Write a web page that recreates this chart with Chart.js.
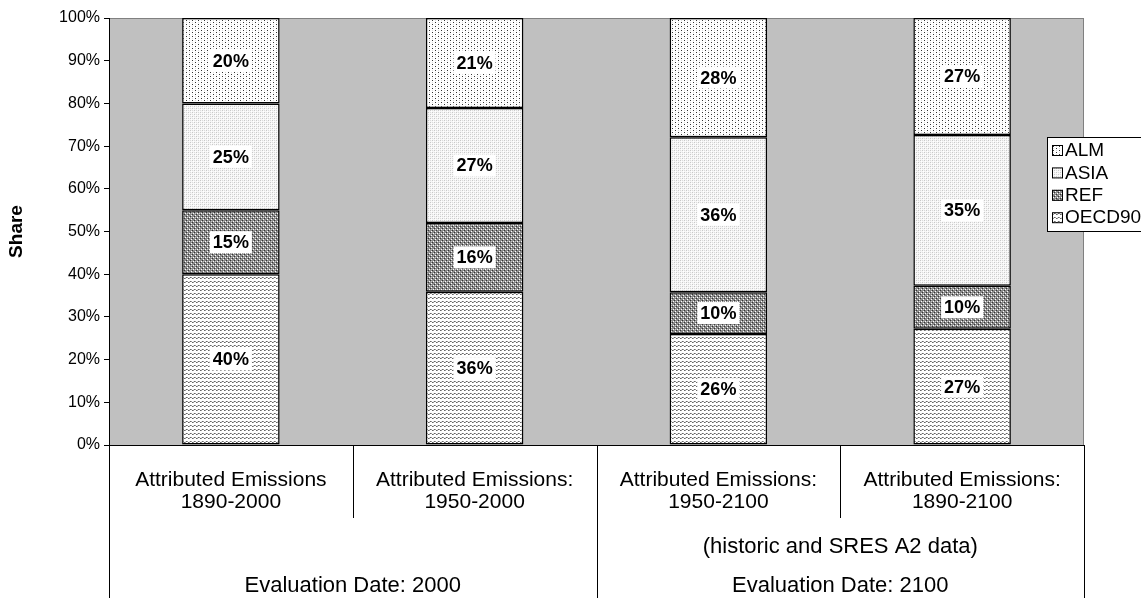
<!DOCTYPE html>
<html>
<head>
<meta charset="utf-8">
<script src="https://cdn.jsdelivr.net/npm/chart.js@4"></script>
<style>
  body { margin: 0; background: #fff; }
  #wrap { width: 1141px; height: 598px; }
</style>
</head>
<body>
<div id="wrap"><canvas id="shareChart" width="1141" height="598"></canvas></div>
<script>
// categories (two lines each) and the grouping rows under them
const categories = [
  ['Attributed Emissions', '1890-2000'],
  ['Attributed Emissions:', '1950-2000'],
  ['Attributed Emissions:', '1950-2100'],
  ['Attributed Emissions:', '1890-2100']
];
const groupNotes = ['', '(historic and SRES A2 data)'];
const groupLabels = ['Evaluation Date: 2000', 'Evaluation Date: 2100'];

// shares in percent
const oecd90 = [40.0, 35.9, 26.0, 27.2];
const ref = [15.0, 16.1, 9.8, 10.1];
const asia = [25.0, 26.9, 36.3, 35.3];
const alm = [20.0, 21.1, 27.9, 27.4];

const yTicks = [0, 10, 20, 30, 40, 50, 60, 70, 80, 90, 100];

const FONT = "'Liberation Sans', Arial, sans-serif";

// little bitmap tiles to mimic the old hatch fills
function tile(w, h, bg, dots) {
  const c = document.createElement('canvas');
  c.width = w; c.height = h;
  const g = c.getContext('2d');
  g.fillStyle = bg;
  g.fillRect(0, 0, w, h);
  dots.forEach(d => {
    g.fillStyle = d[2];
    g.fillRect(d[0], d[1], 1, 1);
  });
  return g.createPattern(c, 'repeat');
}

const almFill = tile(6, 4, '#ffffff', [[0, 0, '#333'], [3, 2, '#333'], [3, 0, '#dcdcdc'], [0, 2, '#dcdcdc']]);
const asiaFill = tile(4, 4, '#f6f6f6', [[0, 0, '#c8c8c8'], [2, 0, '#dcdcdc'], [0, 2, '#dcdcdc'], [2, 2, '#c8c8c8'], [1, 1, '#fff'], [3, 3, '#fff']]);
const refFill = tile(4, 4, '#8a8a8a', [[1, 1, '#ffffff'], [3, 3, '#ffffff'], [0, 2, '#333'], [2, 0, '#333'], [3, 1, '#c8c8c8']]);
const oecdFill = tile(4, 4, '#ffffff', [[0, 2, '#666'], [1, 2, '#999'], [2, 1, '#666'], [3, 1, '#999'], [1, 1, '#e0e0e0']]);

const seriesInfo = [
  { label: 'OECD90', data: oecd90, fill: oecdFill },
  { label: 'REF', data: ref, fill: refFill },
  { label: 'ASIA', data: asia, fill: asiaFill },
  { label: 'ALM', data: alm, fill: almFill }
];

// grey plot background + frame
const plotBack = {
  id: 'plotBack',
  beforeDraw(chart) {
    const a = chart.chartArea, ctx = chart.ctx;
    ctx.save();
    ctx.fillStyle = '#c0c0c0';
    ctx.fillRect(a.left, a.top, a.right - a.left, a.bottom - a.top);
    ctx.strokeStyle = '#808080';
    ctx.lineWidth = 1;
    ctx.strokeRect(a.left + 0.5, a.top + 0.5, a.right - a.left - 1, a.bottom - a.top);
    ctx.restore();
  }
};

// percent labels in white boxes
const segLabels = {
  id: 'segLabels',
  afterDatasetsDraw(chart) {
    const ctx = chart.ctx;
    ctx.save();
    ctx.font = 'bold 18px ' + FONT;
    ctx.textAlign = 'center';
    ctx.textBaseline = 'middle';
    chart.data.datasets.forEach((ds, i) => {
      chart.getDatasetMeta(i).data.forEach((bar, j) => {
        const txt = Math.round(ds.data[j]) + '%';
        const cy = (bar.y + bar.base) / 2;
        const w = ctx.measureText(txt).width + 6;
        ctx.fillStyle = '#fff';
        ctx.fillRect(bar.x - w / 2, cy - 11, w, 22);
        ctx.fillStyle = '#000';
        ctx.fillText(txt, bar.x, cy + 1);
      });
    });
    ctx.restore();
  }
};

// category table under the axis + legend box
const tableAndLegend = {
  id: 'tableAndLegend',
  afterDraw(chart) {
    const ctx = chart.ctx, a = chart.chartArea;
    const H = chart.height;
    const step = (a.right - a.left) / categories.length;
    ctx.save();
    ctx.strokeStyle = '#000';
    ctx.lineWidth = 1;
    // inner separators (short) and group separators (full)
    for (let i = 0; i <= categories.length; i++) {
      const x = Math.round(a.left + i * step) + 0.5;
      const full = i % 2 === 0;
      ctx.beginPath();
      ctx.moveTo(x, a.bottom);
      ctx.lineTo(x, full ? H : a.bottom + 73);
      ctx.stroke();
    }
    ctx.fillStyle = '#000';
    ctx.font = '22px ' + FONT;
    ctx.textAlign = 'center';
    ctx.textBaseline = 'middle';
    for (let g = 0; g < groupLabels.length; g++) {
      const cx = a.left + (g * 2 + 1) * step;
      if (groupNotes[g]) ctx.fillText(groupNotes[g], cx, a.bottom + 102);
      ctx.fillText(groupLabels[g], cx, a.bottom + 141);
    }

    // legend
    const lx = 1047, ly = 137;
    ctx.fillStyle = '#fff';
    ctx.fillRect(lx, ly, 120, 94);
    ctx.strokeRect(lx + 0.5, ly + 0.5, 120, 94);
    ctx.font = '19px ' + FONT;
    ctx.textAlign = 'left';
    const order = seriesInfo.slice().reverse();
    order.forEach((s, k) => {
      const yy = ly + 13 + k * 22.4;
      ctx.fillStyle = s.fill;
      ctx.fillRect(lx + 5, yy - 5, 11, 11);
      ctx.strokeStyle = '#000';
      ctx.strokeRect(lx + 5.5, yy - 4.5, 10, 10);
      ctx.fillStyle = '#000';
      ctx.fillText(s.label, lx + 18, yy + 1);
    });
    ctx.restore();
  }
};

new Chart(document.getElementById('shareChart'), {
  type: 'bar',
  data: {
    labels: categories,
    datasets: seriesInfo.map(s => ({
      label: s.label,
      data: s.data,
      backgroundColor: s.fill,
      borderColor: '#000',
      borderWidth: 1.5,
      borderSkipped: false,
      barPercentage: 0.4,
      categoryPercentage: 1
    }))
  },
  options: {
    responsive: false,
    animation: false,
    devicePixelRatio: 1,
    layout: { padding: { top: 18, right: 57, left: 0, bottom: 0 } },
    plugins: {
      legend: { display: false },
      tooltip: { enabled: false }
    },
    scales: {
      x: {
        stacked: true,
        afterFit(s) { s.height = 153; },
        grid: { display: false },
        border: { display: true, color: '#000', width: 1 },
        ticks: {
          color: '#000',
          font: { family: FONT, size: 21, lineHeight: 1.05 },
          padding: 16,
          autoSkip: false,
          maxRotation: 0
        }
      },
      y: {
        stacked: true,
        min: 0,
        max: 100,
        afterFit(s) { s.width = 109; },
        afterBuildTicks(s) { s.ticks = yTicks.map(v => ({ value: v })); },
        grid: { drawOnChartArea: false, tickLength: 5, color: '#000' },
        border: { display: true, color: '#000', width: 1 },
        title: {
          display: true,
          text: 'Share',
          color: '#000',
          font: { family: FONT, size: 19, weight: 'bold' },
          padding: { top: 5, bottom: 0 }
        },
        ticks: {
          color: '#000',
          font: { family: FONT, size: 16 },
          padding: 4,
          callback: v => v + '%'
        }
      }
    }
  },
  plugins: [plotBack, segLabels, tableAndLegend]
});
</script>
</body>
</html>
